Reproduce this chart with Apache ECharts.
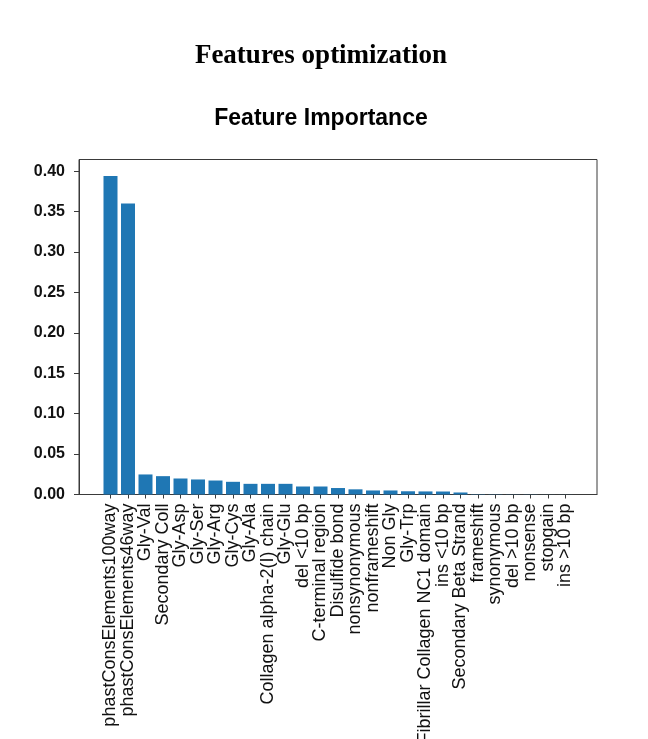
<!DOCTYPE html>
<html>
<head>
<meta charset="utf-8">
<script src="https://cdn.jsdelivr.net/npm/echarts@6/dist/echarts.min.js"></script>
<style>
  html, body { margin: 0; padding: 0; background: #fff; }
  #chart { width: 648px; height: 739px; }
</style>
</head>
<body>
<div id="chart"></div>
<script>
// Feature names, ordered by importance
const features = [
  'phastConsElements100way', 'phastConsElements46way', 'Gly-Val', 'Secondary Coll',
  'Gly-Asp', 'Gly-Ser', 'Gly-Arg', 'Gly-Cys', 'Gly-Ala', 'Collagen alpha-2(I) chain',
  'Gly-Glu', 'del <10 bp', 'C-terminal region', 'Disulfide bond', 'nonsynonymous',
  'nonframeshift', 'Non Gly', 'Gly-Trp', 'Fibrillar Collagen NC1 domain', 'ins <10 bp',
  'Secondary Beta Strand', 'frameshift', 'synonymous', 'del >10 bp', 'nonsense',
  'stopgain', 'ins >10 bp'
];

// Importance score of each feature
const importance = [
  0.394, 0.360, 0.0248, 0.0227, 0.0198, 0.0186, 0.0173, 0.0157, 0.0132, 0.0132,
  0.0132, 0.0099, 0.0099, 0.0080, 0.0064, 0.0050, 0.0050, 0.0040, 0.0038, 0.0037,
  0.0025, 0.0004, 0.0003, 0.0002, 0.0002, 0.0001, 0.0001
];

// Y tick values
const yTicks = [0, 0.05, 0.10, 0.15, 0.20, 0.25, 0.30, 0.35, 0.40];

const positions = features.map((_, i) => i);
// Tick labels are split over two stacked axes (even / odd slots) so the
// tightly packed rotated labels are never culled as overlapping.
const evenPos = positions.filter(i => i % 2 === 0);
const oddPos = positions.filter(i => i % 2 === 1);
const barData = importance.map((v, i) => [i, v]);

const xMin = -1.8;
const xMax = features.length - 1 + 1.8;
const axisColor = '#3a3a3a';

const labelStyle = {
  show: true,
  showMinLabel: true,
  showMaxLabel: true,
  hideOverlap: false,
  rotate: 90,
  margin: 9,
  fontFamily: 'Liberation Sans',
  fontSize: 18,
  color: '#111',
  formatter: v => features[Math.round(v)] || ''
};

const chart = echarts.init(document.getElementById('chart'), null, { renderer: 'canvas' });

chart.setOption({
  backgroundColor: '#ffffff',
  animation: false,
  title: [
    {
      text: 'Features optimization',
      left: 316, top: 38, textAlign: 'center',
      textStyle: { fontFamily: 'Liberation Serif', fontWeight: 'bold', fontSize: 27, color: '#000' }
    },
    {
      text: 'Feature Importance',
      left: 316, top: 102, textAlign: 'center',
      textStyle: { fontFamily: 'Liberation Sans', fontWeight: 'bold', fontSize: 23, color: '#000' }
    }
  ],
  grid: {
    left: 79, right: 51, top: 159.5, bottom: 244.5,
    containLabel: false,
    outerBoundsMode: 'none',
    show: true, borderColor: axisColor, borderWidth: 1, backgroundColor: 'transparent'
  },
  xAxis: [
    {
      type: 'value',
      position: 'bottom',
      min: xMin,
      max: xMax,
      splitLine: { show: false },
      axisLine: { show: true, onZero: false, lineStyle: { color: axisColor, width: 1 } },
      axisTick: { show: true, length: 4, customValues: positions, lineStyle: { color: axisColor } },
      axisLabel: Object.assign({ customValues: evenPos }, labelStyle)
    },
    {
      type: 'value',
      position: 'bottom',
      offset: 0,
      min: xMin,
      max: xMax,
      splitLine: { show: false },
      axisLine: { show: false, onZero: false },
      axisTick: { show: false },
      axisLabel: Object.assign({ customValues: oddPos }, labelStyle)
    }
  ],
  yAxis: {
    type: 'value',
    min: 0,
    max: 0.4145,
    splitLine: { show: false },
    axisLine: { show: true, onZero: false, lineStyle: { color: axisColor, width: 1 } },
    axisTick: { show: true, length: 5, customValues: yTicks, lineStyle: { color: axisColor } },
    axisLabel: {
      customValues: yTicks,
      showMinLabel: true,
      margin: 14,
      fontFamily: 'Liberation Sans',
      fontWeight: 'bold',
      fontSize: 16,
      color: '#111',
      formatter: v => v.toFixed(2)
    }
  },
  series: [
    {
      type: 'bar',
      xAxisIndex: 0,
      data: barData,
      barWidth: 14,
      itemStyle: { color: '#1f77b4' }
    }
  ]
});
</script>
</body>
</html>
